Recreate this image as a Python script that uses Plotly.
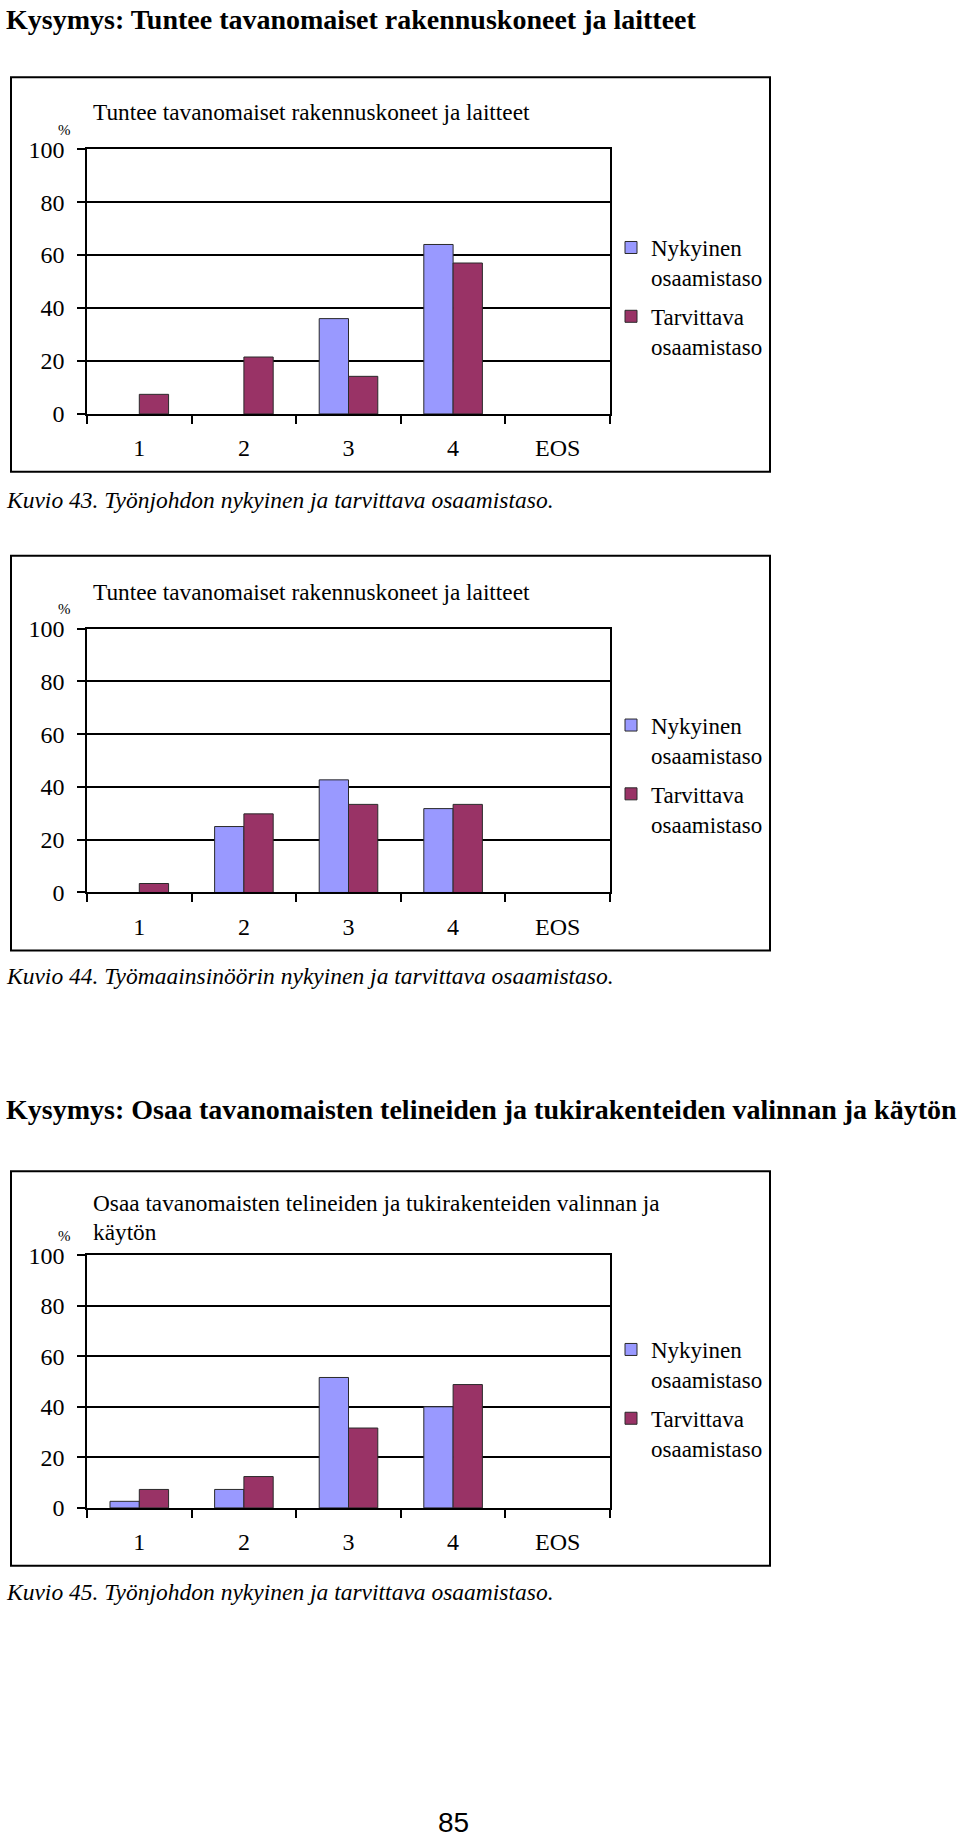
import plotly.graph_objects as go

W, H = 960, 1841

categories = ["1", "2", "3", "4", "EOS"]
series_names = ["Nykyinen<br>osaamistaso", "Tarvittava<br>osaamistaso"]

c1_nykyinen = [0, 0, 36, 64, 0]
c1_tarvittava = [7.4, 21.5, 14.2, 57, 0]
c2_nykyinen = [0, 25, 42.7, 31.8, 0]
c2_tarvittava = [3.4, 29.8, 33.4, 33.4, 0]
c3_nykyinen = [2.6, 7.3, 51.6, 40, 0]
c3_tarvittava = [7.3, 12.4, 31.6, 48.8, 0]

y_ticks = [0, 20, 40, 60, 80, 100]

page_title1 = "Kysymys: Tuntee tavanomaiset rakennuskoneet ja laitteet"
page_title2 = "Kysymys: Osaa tavanomaisten telineiden ja tukirakenteiden valinnan ja käytön"
chart_titles = [
    ["Tuntee tavanomaiset rakennuskoneet ja laitteet"],
    ["Tuntee tavanomaiset rakennuskoneet ja laitteet"],
    ["Osaa tavanomaisten telineiden ja tukirakenteiden valinnan ja", "käytön"],
]
captions = [
    "Kuvio 43. Työnjohdon nykyinen ja tarvittava osaamistaso.",
    "Kuvio 44. Työmaainsinöörin nykyinen ja tarvittava osaamistaso.",
    "Kuvio 45. Työnjohdon nykyinen ja tarvittava osaamistaso.",
]
page_number = "85"

COL_NYK = "#9999FF"
COL_TARV = "#993366"
SERIF = "Liberation Serif"

# the page as photographed sits slightly lower / shorter than the figure;
# positions below are target pixel positions on the final picture
V_OFF, V_SCALE = 10.7, 0.9868


def px(x):
    return x / W


def py(y):
    return 1 - max((y - V_OFF) / V_SCALE, 0) / H


def nz(vals):
    # zero-height bars are not drawn in the original
    return [v if v else None for v in vals]


charts = [
    dict(nyk=c1_nykyinen, tarv=c1_tarvittava, box=(11, 75, 770, 470), plot=(87, 147, 610, 412),
         titles_y=[110], pct_y=128, leg_line=249, cap_y=498),
    dict(nyk=c2_nykyinen, tarv=c2_tarvittava, box=(11, 554, 770, 949), plot=(87, 627, 610, 891),
         titles_y=[590], pct_y=607, leg_line=727, cap_y=975),
    dict(nyk=c3_nykyinen, tarv=c3_tarvittava, box=(11, 1170, 770, 1565), plot=(87, 1254, 610, 1507),
         titles_y=[1202, 1231], pct_y=1235, leg_line=1352, cap_y=1591),
]

fig = go.Figure()
annotations = []
shapes = []

for i, ch in enumerate(charts):
    n = "" if i == 0 else str(i + 1)
    leg = "legend" + n
    x0, y0, x1, y1 = ch["plot"]
    for name, vals, col, grp in [(series_names[0], ch["nyk"], COL_NYK, "n"),
                                  (series_names[1], ch["tarv"], COL_TARV, "t")]:
        fig.add_trace(go.Bar(
            x=categories, y=nz(vals), name=name,
            marker=dict(color=col, line=dict(color="#2a2a2a", width=1)),
            xaxis="x" + n, yaxis="y" + n, legend=leg, legendgroup=grp + n,
        ))
    fig.update_layout(**{
        "xaxis" + n: dict(domain=[px(x0), px(x1)], anchor="y" + n, type="category",
                          showline=True, linecolor="black", linewidth=1.5, mirror=True,
                          ticks="outside", tickson="boundaries", ticklen=8, tickwidth=1.5, tickcolor="black",
                          showgrid=False, tickfont=dict(family=SERIF, size=24, color="black"),
                          ticklabelstandoff=12, fixedrange=True),
        "yaxis" + n: dict(domain=[py(y1), py(y0)], anchor="x" + n, range=[0, 100],
                          tickvals=y_ticks, showgrid=True, gridcolor="black", gridwidth=1.5,
                          showline=True, linecolor="black", linewidth=1.5, mirror=True,
                          ticks="outside", ticklen=8, tickwidth=1.5, tickcolor="black",
                          zeroline=False, tickfont=dict(family=SERIF, size=24, color="black"),
                          ticklabelstandoff=8, fixedrange=True),
        leg: dict(x=px(611), y=py(ch["leg_line"]) + 25.4 / H, xanchor="left", yanchor="top",
                  font=dict(family=SERIF, size=23, color="black"), valign="top",
                  bgcolor="rgba(0,0,0,0)", tracegroupgap=6, traceorder="grouped"),
    })
    bx0, by0, bx1, by1 = ch["box"]
    shapes.append(dict(type="rect", xref="paper", yref="paper", x0=px(bx0), x1=px(bx1),
                       y0=py(by1), y1=py(by0), line=dict(color="black", width=2)))
    for t, ty in zip(chart_titles[i], ch["titles_y"]):
        annotations.append(dict(text=t, x=px(91), y=py(ty), xref="paper", yref="paper",
                                xanchor="left", yanchor="middle", showarrow=False,
                                font=dict(family=SERIF, size=23.3, color="black")))
    annotations.append(dict(text="%", x=px(64), y=py(ch["pct_y"]), xref="paper", yref="paper",
                            xanchor="center", yanchor="middle", showarrow=False,
                            font=dict(family=SERIF, size=15, color="black")))
    annotations.append(dict(text="<i>" + captions[i] + "</i>", x=px(4), y=py(ch["cap_y"]),
                            xref="paper", yref="paper", xanchor="left", yanchor="middle",
                            showarrow=False, font=dict(family=SERIF, size=23.5, color="black")))

annotations.append(dict(text="<b>" + page_title1 + "</b>", x=px(4), y=1 - 7 / H, xref="paper", yref="paper",
                        xanchor="left", yanchor="middle", showarrow=False,
                        font=dict(family=SERIF, size=28, color="black")))
annotations.append(dict(text="<b>" + page_title2 + "</b>", x=px(4), y=py(1108), xref="paper", yref="paper",
                        xanchor="left", yanchor="middle", showarrow=False,
                        font=dict(family=SERIF, size=28, color="black")))
annotations.append(dict(text=page_number, x=px(453), y=py(1822), xref="paper", yref="paper",
                        xanchor="center", yanchor="middle", showarrow=False,
                        font=dict(family="Liberation Sans", size=28, color="black")))

fig.update_layout(width=W, height=H, margin=dict(l=0, r=0, t=0, b=0), autosize=False,
                  paper_bgcolor="white", plot_bgcolor="white", barmode="group", bargap=0.44,
                  bargroupgap=0, annotations=annotations, shapes=shapes, showlegend=True)

fig.write_html("out.html", config={"displayModeBar": False},
               post_script="document.body.style.margin='0px';")
